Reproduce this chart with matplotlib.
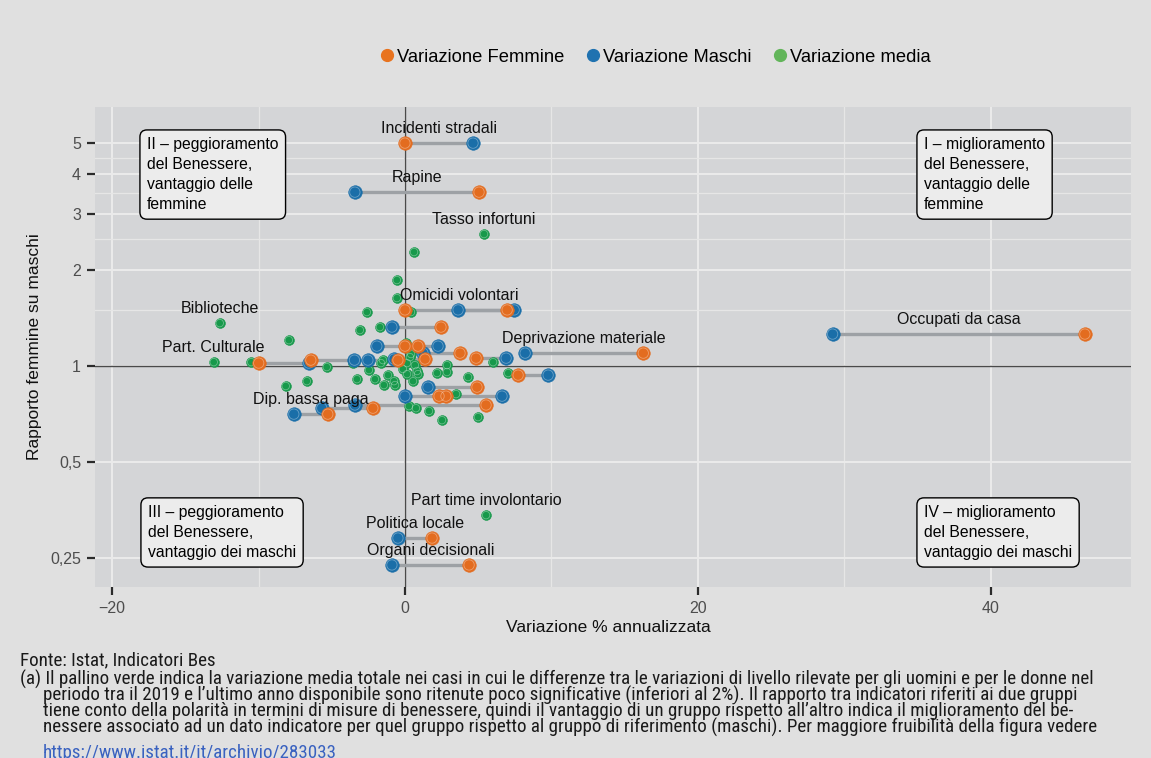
import matplotlib
matplotlib.use("Agg")
import matplotlib.pyplot as plt
from matplotlib.lines import Line2D
from matplotlib.ticker import FixedLocator, FixedFormatter, NullFormatter
from matplotlib import font_manager
import numpy as np

plt.rcParams["font.family"] = ["Liberation Sans", "DejaVu Sans"]

# ---------------- data ----------------
pair_labels = ["Incidenti stradali", "Rapine", "Omicidi volontari", "", "", "", "",
               "", "Deprivazione materiale", "", "", "", "", "",
               "Occupati da casa", "", "", "", "", "", "", "Dip. bassa paga",
               "Politica locale", "Organi decisionali"]
pair_femmine = [0.0, 5.06, 0.0, 6.98, 2.46, 0.0, 0.89,
                3.76, 16.28, 4.86, 1.37, -0.48, -6.43, -9.99,
                46.44, 7.73, 4.92, 2.33, 2.80, 5.54, -2.19, -5.27,
                1.85, 4.38]
pair_maschi = [4.65, -3.42, 7.46, 3.63, -0.89, -1.92, 2.26,
               1.23, 8.21, 6.91, -0.75, -2.53, -3.45, -6.57,
               29.21, 9.78, 1.57, 0.0, 6.63, -3.42, -5.68, -7.59,
               -0.48, -0.89]
pair_rapporto = [5.0, 3.51, 1.50, 1.50, 1.325, 1.155, 1.155,
                 1.098, 1.098, 1.059, 1.052, 1.044, 1.044, 1.022,
                 1.26, 0.937, 0.859, 0.805, 0.805, 0.755, 0.738, 0.707,
                 0.289, 0.238]

media_labels = ["Tasso infortuni", "", "", "", "", "", "", "", "",
                "Biblioteche", "Part. Culturale", "", "", "", "", "", "", "",
                "", "", "", "", "", "", "", "", "", "", "", "", "", "", "", "",
                "", "", "", "", "", "", "", "", "", "", "", "", "",
                "Part time involontario"]
media_var = [5.40, 0.62, -0.55, -0.55, -2.60, 0.41, -1.71, -3.08, -7.93,
             -12.65, -13.06, -10.50, 0.07, 0.41, 0.34, -3.56, -1.64, -1.50,
             -5.34, -6.70, -8.14, -3.28, -2.46, -2.05, -1.44, -1.16, -0.75, -0.68,
             0.14, -0.14, 0.14, 0.68, 0.82, 0.89, 0.55, 2.19, 2.87, 2.87,
             4.31, 6.02, 7.05, 3.49, 0.27, 0.75, 1.64, 2.53, 4.99,
             5.54]
media_rapporto = [2.594, 2.278, 1.861, 1.634, 1.477, 1.477, 1.325, 1.297, 1.206,
                  1.364, 1.029, 1.029, 1.181, 1.091, 1.067, 1.022, 1.022, 1.044,
                  0.993, 0.897, 0.866, 0.910, 0.972, 0.910, 0.872, 0.937, 0.897, 0.872,
                  1.022, 0.979, 0.944, 1.007, 0.965, 0.944, 0.897, 0.951, 1.007, 0.958,
                  0.924, 1.029, 0.951, 0.817, 0.749, 0.738, 0.723, 0.677, 0.692,
                  0.341]

x_ticks = [-20, 0, 20, 40]
x_tick_labels = ["\u221220", "0", "20", "40"]
x_minor = [-10, 10, 30]
y_ticks = [0.25, 0.5, 1, 2, 3, 4, 5]
y_tick_labels = ["0,25", "0,5", "1", "2", "3", "4", "5"]
y_minor = [1.5, 2.5, 3.5, 4.5]

legend_labels = ["Variazione Femmine", "Variazione Maschi", "Variazione media"]

quadrant_texts = [
    "II \u2013 peggioramento\ndel Benessere,\nvantaggio delle\nfemmine",
    "I \u2013 miglioramento\ndel Benessere,\nvantaggio delle\nfemmine",
    "III \u2013 peggioramento\ndel Benessere,\nvantaggio dei maschi",
    "IV \u2013 miglioramento\ndel Benessere,\nvantaggio dei maschi",
]

footnote_lines = [
    "Fonte: Istat, Indicatori Bes",
    "(a) Il pallino verde indica la variazione media totale nei casi in cui le differenze tra le variazioni di livello rilevate per gli uomini e per le donne nel",
    "periodo tra il 2019 e l\u2019ultimo anno disponibile sono ritenute poco significative (inferiori al 2%). Il rapporto tra indicatori riferiti ai due gruppi",
    "tiene conto della polarit\u00e0 in termini di misure di benessere, quindi il vantaggio di un gruppo rispetto all\u2019altro indica il miglioramento del be-",
    "nessere associato ad un dato indicatore per quel gruppo rispetto al gruppo di riferimento (maschi). Per maggiore fruibilit\u00e0 della figura vedere",
]
footnote_url = "https://www.istat.it/it/archivio/283033"

# ---------------- styling ----------------
W, H = 1151, 758
FIG_BG = "#e0e0e0"
PANEL_BG = "#d4d5d7"
C_F = "#E36C1F"
C_M = "#1A6EA8"
C_G = "#17994B"
L_F = "#E8731F"
L_M = "#1F72B0"
L_G = "#62B55A"
SEG = "#9da1a5"

fig = plt.figure(figsize=(W / 100, H / 100), dpi=100, facecolor=FIG_BG)
px_l, px_r, px_t, px_b = 95, 1131, 107, 587
ax = fig.add_axes([px_l / W, 1 - px_b / H, (px_r - px_l) / W, (px_b - px_t) / H])
ax.set_facecolor(PANEL_BG)
for s in ax.spines.values():
    s.set_visible(False)

ax.set_yscale("log")
ax.set_xlim(-21.17, 49.59)
ax.set_ylim(0.203, 6.49)

ax.xaxis.set_major_locator(FixedLocator(x_ticks))
ax.xaxis.set_major_formatter(FixedFormatter(x_tick_labels))
ax.xaxis.set_minor_locator(FixedLocator(x_minor))
ax.xaxis.set_minor_formatter(NullFormatter())
ax.yaxis.set_major_locator(FixedLocator(y_ticks))
ax.yaxis.set_major_formatter(FixedFormatter(y_tick_labels))
ax.yaxis.set_minor_locator(FixedLocator(y_minor))
ax.yaxis.set_minor_formatter(NullFormatter())

ax.tick_params(which="major", length=6, width=1.6, color="#2b2b2b",
               labelcolor="#4d4d4d", labelsize=11.5, pad=4)
ax.tick_params(which="minor", length=0)
ax.set_axisbelow(True)
ax.grid(which="major", color="#ebebeb", linewidth=1.4)
ax.grid(which="minor", color="#e6e6e6", linewidth=0.9)

ax.axhline(1, color="#4a4a4a", linewidth=1.0, zorder=1.5)
ax.axvline(0, color="#4a4a4a", linewidth=1.0, zorder=1.5)

# dumbbell segments
for f, m, r in zip(pair_femmine, pair_maschi, pair_rapporto):
    ax.plot([f, m], [r, r], color=SEG, linewidth=2.4, solid_capstyle="butt", zorder=2)

def dots(xs, ys, color, size, z):
    ax.scatter(xs, ys, s=size, color=color, edgecolors=color, linewidths=0.4, zorder=z)
    ax.scatter(xs, ys, s=size * 0.58, facecolors="none",
               edgecolors=(1, 1, 1, 0.35), linewidths=0.6, zorder=z + 0.1)

dots(media_var, media_rapporto, C_G, 50, 3)
dots(pair_maschi, pair_rapporto, C_M, 95, 4)
dots(pair_femmine, pair_rapporto, C_F, 95, 5)

# labels
for name, f, m, r in zip(pair_labels, pair_femmine, pair_maschi, pair_rapporto):
    if name:
        lo, hi = min(f, m), max(f, m)
        ax.annotate(name, xy=((lo + hi) / 2, r), xytext=(0, 10.5),
                    textcoords="offset points", ha="center", va="center",
                    fontsize=11.5, color="#111111", zorder=6)
for name, x, r in zip(media_labels, media_var, media_rapporto):
    if name:
        ax.annotate(name, xy=(x, r), xytext=(0, 10.5),
                    textcoords="offset points", ha="center", va="center",
                    fontsize=11.5, color="#111111", zorder=6)

# quadrant boxes (pixel anchors: text left, text top/bottom)
box_kw = dict(boxstyle="round,pad=0.45,rounding_size=0.45", fc="#ececec",
              ec="black", lw=1.0)
def ax_frac(px, py):
    return (px - px_l) / (px_r - px_l), (px_b - py) / (px_b - px_t)

for txt, (bx, by), va in zip(quadrant_texts,
                             [(147, 137), (924, 137), (148, 560), (924, 560)],
                             ["top", "top", "bottom", "bottom"]):
    fx, fy = ax_frac(bx, by)
    ax.text(fx, fy, txt, transform=ax.transAxes, ha="left", va=va,
            fontsize=11.3, linespacing=1.42, bbox=box_kw, zorder=7)

# axis titles
fig.text(35 / W, 1 - 347 / H, "Rapporto femmine su maschi", rotation=90,
         ha="center", va="center", fontsize=12.5, color="#111111")
fig.text(608 / W, 1 - 627 / H, "Variazione % annualizzata",
         ha="center", va="center", fontsize=12.5, color="#111111")

# legend
handles = [Line2D([], [], marker="o", linestyle="none", markersize=8.5,
                  markerfacecolor=c, markeredgecolor=c) for c in (L_F, L_M, L_G)]
fig.legend(handles, legend_labels, loc="center", bbox_to_anchor=(654 / W, 1 - 57 / H),
           ncol=3, frameon=False, fontsize=13.2, handletextpad=0.05,
           columnspacing=1.05, handlelength=1.0, borderaxespad=0)

# footnote: prefer a narrow family when installed, fit the width of the reference
avail = {f.name for f in font_manager.fontManager.ttflist}
narrow = [n for n in ["Liberation Sans Narrow", "Arial Narrow", "Roboto Condensed",
                      "Open Sans Condensed", "DejaVu Sans Condensed"] if n in avail]
foot_font = narrow[:1] + ["Liberation Sans", "DejaVu Sans"]
ys = [660, 679, 695, 711, 727]
xs = [20, 20, 43, 43, 43]
foot_texts = []
for line, x, y in zip(footnote_lines, xs, ys):
    foot_texts.append(fig.text(x / W, 1 - y / H, line, ha="left", va="center",
                               fontsize=12, family=foot_font, color="#1a1a1a"))
foot_texts.append(fig.text(43 / W, 1 - 753 / H, footnote_url, ha="left", va="center",
                           fontsize=12, family=foot_font, color="#3a62c0"))
fig.canvas.draw()
wid = foot_texts[1].get_window_extent(fig.canvas.get_renderer()).width
scale = 1076.0 / wid
for t in foot_texts:
    t.set_fontsize(12 * scale)

fig.savefig("out.png", dpi=100, facecolor=FIG_BG)
